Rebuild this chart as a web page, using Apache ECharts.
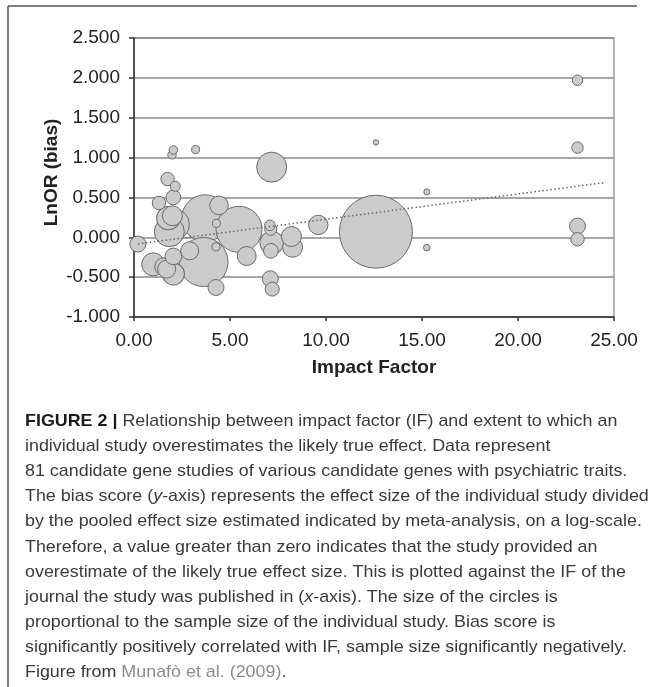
<!DOCTYPE html>
<html>
<head>
<meta charset="utf-8">
<script src="https://cdn.jsdelivr.net/npm/echarts@6/dist/echarts.min.js"></script>
<style>
html,body{margin:0;padding:0;background:#fff;}
#chart{width:656px;height:687px;}
</style>
</head>
<body>
<div id="chart"></div>
<script>
// ---- data ----
const impactFactor = [12.6, 3.70, 5.47, 3.62, 2.05, 1.84, 7.17, 1.79, 7.17, 1.0, 2.05, 2.0, 8.26, 8.2, 9.6, 5.87, 4.43, 1.55, 1.7, 2.9, 2.05, 0.2, 4.27, 7.1, 23.1, 2.05, 7.13, 7.2, 1.3, 1.75, 23.1, 7.12, 23.1, 7.08, 23.1, 2.15, 1.98, 2.05, 3.21, 4.29, 4.27, 15.25, 15.25, 12.6];
const lnOR = [0.07, 0.24, 0.10, -0.31, 0.16, 0.07, 0.88, 0.24, -0.07, -0.34, -0.46, 0.27, -0.125, 0.01, 0.155, -0.235, 0.40, -0.37, -0.40, -0.17, -0.24, -0.085, -0.63, -0.52, 0.14, 0.50, -0.17, -0.65, 0.43, 0.73, -0.025, 0.10, 1.125, 0.15, 1.97, 0.64, 1.035, 1.095, 1.10, 0.175, -0.12, -0.13, 0.57, 1.19];
const sampleSize = [14800, 6040, 5880, 6670, 2850, 2500, 2500, 1520, 1520, 1470, 1350, 1100, 1110, 1110, 1045, 1000, 960, 900, 900, 900, 770, 710, 710, 710, 710, 600, 600, 545, 500, 500, 500, 400, 360, 310, 310, 280, 200, 200, 180, 180, 180, 120, 100, 80];
const trendIF = [0.2, 24.5];
const trendLnOR = [-0.083, 0.686];
const xAxisTitle = 'Impact Factor';
const yAxisTitle = 'LnOR (bias)';
// {i|..} marks italic letters, {r|..} the reference link
const captionLines = [
  'Relationship between impact factor (IF) and extent to which an',
  'individual study overestimates the likely true effect. Data represent',
  '81 candidate gene studies of various candidate genes with psychiatric traits.',
  'The bias score ({i|y}-axis) represents the effect size of the individual study divided',
  'by the pooled effect size estimated indicated by meta-analysis, on a log-scale.',
  'Therefore, a value greater than zero indicates that the study provided an',
  'overestimate of the likely true effect size. This is plotted against the IF of the',
  'journal the study was published in ({i|x}-axis). The size of the circles is',
  'proportional to the sample size of the individual study. Bias score is',
  'significantly positively correlated with IF, sample size significantly negatively.',
  'Figure from {r|Munafò et al. (2009)}.'
];
const captionLead = 'FIGURE 2 |';

// ---- build ----
const FONT = '"Liberation Sans", Arial, Helvetica, sans-serif';
const scatterData = impactFactor.map((x, i) => [x, lnOR[i], sampleSize[i]]);
const trendData = trendIF.map((x, i) => [x, trendLnOR[i]]);

// caption layout: measure and compress horizontally like the condensed source face
const capSize = 17;
const cv = document.createElement('canvas').getContext('2d');
function plain(t) { return t.replace(/\{[a-z]\|([^}]*)\}/g, '$1'); }
function w(t, bold) { cv.font = (bold ? 'bold ' : '') + capSize + 'px ' + FONT; return cv.measureText(t).width; }
const targets = [597, 524, 605, 623, 619, 573, 601, 531, 534, 592];
let meas = 0, tgt = 0;
captionLines.slice(0, 10).forEach((t, i) => {
  let m = w(plain(t), false);
  if (i === 0) m += w(captionLead, true) + w(' ', false);
  meas += m; tgt += targets[i];
});
const sx = tgt / meas;

const capGraphics = captionLines.map((t, i) => {
  let text = t;
  if (i === 0) text = '{b|' + captionLead + '} ' + t;
  return {
    type: 'text', x: 25, y: 421 + i * 25.17, scaleX: sx,
    style: {
      text: text, fontSize: capSize, fontFamily: FONT, fill: '#3a3a3a',
      verticalAlign: 'middle', align: 'left',
      rich: {
        b: { fontWeight: 'bold', fontSize: capSize, fontFamily: FONT, fill: '#1a1a1a' },
        i: { fontStyle: 'italic', fontSize: capSize, fontFamily: FONT, fill: '#3a3a3a' },
        r: { fontSize: capSize, fontFamily: FONT, fill: '#8c8c8c' }
      }
    }
  };
});

const chart = echarts.init(document.getElementById('chart'), null, { renderer: 'canvas' });
chart.setOption({
  animation: false,
  backgroundColor: '#fff',
  grid: { left: 134, right: 42, top: 38, bottom: 370, show: true, borderColor: '#9a9a9a', borderWidth: 1.5, backgroundColor: 'transparent' },
  xAxis: {
    type: 'value', min: 0, max: 25, interval: 5,
    axisLine: { show: true, onZero: false, lineStyle: { color: '#333', width: 1.5 } },
    axisTick: { show: true, length: 4, lineStyle: { color: '#333', width: 1.5 } },
    axisLabel: { margin: 14, fontSize: 19, fontFamily: FONT, color: '#222', formatter: v => v.toFixed(2) },
    splitLine: { show: false },
    name: xAxisTitle, nameLocation: 'middle', nameGap: 41,
    nameTextStyle: { fontSize: 19, fontWeight: 'bold', fontFamily: FONT, color: '#222' }
  },
  yAxis: {
    type: 'value', min: -1, max: 2.5, interval: 0.5,
    axisLine: { show: true, onZero: false, lineStyle: { color: '#333', width: 1.5 } },
    axisTick: { show: true, length: 5, lineStyle: { color: '#333', width: 1.5 } },
    axisLabel: { margin: 14, fontSize: 19, fontFamily: FONT, color: '#222', formatter: v => v.toFixed(3) },
    splitLine: { show: true, lineStyle: { color: '#8a8a8a', width: 1.5 } }
  },
  graphic: [
    { type: 'line', shape: { x1: 8, y1: 6, x2: 637, y2: 6 }, style: { stroke: '#555', lineWidth: 1.5 } },
    { type: 'line', shape: { x1: 8, y1: 6, x2: 8, y2: 687 }, style: { stroke: '#555', lineWidth: 1.5 } },
    { type: 'text', x: 52, y: 172.5, rotation: Math.PI / 2,
      style: { text: yAxisTitle, fontSize: 19, fontWeight: 'bold', fontFamily: FONT, fill: '#222', align: 'center', verticalAlign: 'middle' } }
  ].concat(capGraphics),
  series: [
    {
      type: 'scatter', data: scatterData, z: 3,
      symbol: 'circle',
      symbolSize: d => Math.sqrt(d[2]) * 0.6,
      itemStyle: { color: '#cbcbcb', borderColor: '#6a6a6a', borderWidth: 1, opacity: 1 },
      emphasis: { disabled: true }
    },
    {
      type: 'line', data: trendData, z: 4, symbol: 'none',
      lineStyle: { color: '#666', width: 1.5, type: [1.5, 2.5] }
    }
  ]
});
</script>
</body>
</html>
